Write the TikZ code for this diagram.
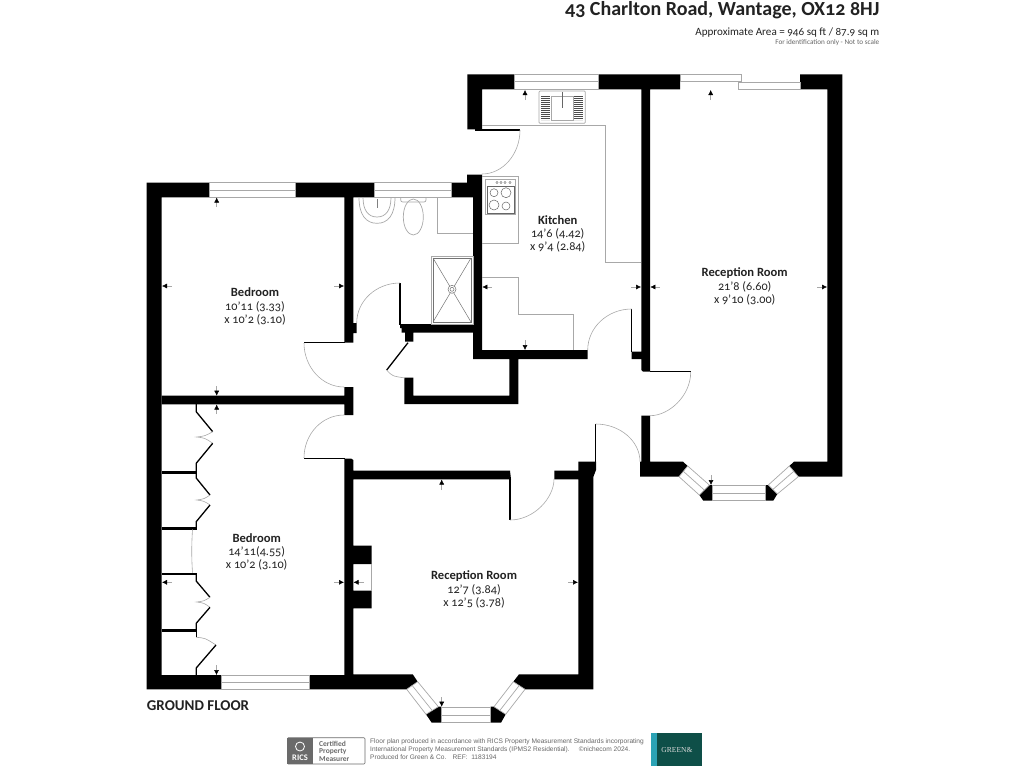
\documentclass[tikz,border=0pt]{standalone}
\usepackage{fontspec}
\usepackage{xcolor}
\setmainfont[Numbers=OldStyle]{Carlito}
\newfontfamily\finefont{Liberation Sans}
\newfontfamily\logofont{Liberation Serif}
\usetikzlibrary{arrows.meta}
\definecolor{inkgrey}{HTML}{222222}
\definecolor{linegrey}{HTML}{A8A8A8}
\definecolor{badgegrey}{HTML}{6A6A6A}
\definecolor{greensbox}{HTML}{0E4F48}
\definecolor{greensbar}{HTML}{2BA3B5}
\tikzset{
  wall/.style={fill=black},
  leaf/.style={draw=black,line width=1.3pt},
  swing/.style={draw=linegrey,line width=0.6pt},
  fixture/.style={draw=linegrey,line width=0.7pt},
  glass/.style={draw=linegrey,line width=0.7pt,fill=white},
  sizemark/.style={draw=linegrey,line width=0.5pt,-{Latex[black,length=5pt,width=5pt]}},
  roomname/.style={font=\fontsize{12.6}{14}\selectfont\bfseries,text=inkgrey,inner sep=0pt},
  roomsize/.style={font=\fontsize{12.2}{14}\selectfont,text=inkgrey,inner sep=0pt}
}

\begin{document}
\begin{tikzpicture}[x=1pt,y=-1pt]
  \useasboundingbox (0,0) rectangle (1024,768);

  \begin{scope}
    % outer and inner walls
    \fill[wall] (146.7,182.7) -- (209,182.7) -- (209,197.3) -- (161.7,197.3) -- (161.7,675) -- (221.7,675) -- (221.7,689.3) -- (146.7,689.3) -- cycle;
    \fill[wall] (295.3,182.7) -- (374.7,182.7) -- (374.7,197.3) -- (353.3,197.3) -- (353.3,323) -- (356.7,323) -- (356.7,333) -- (353.3,333) -- (353.3,342.7) -- (344.3,342.7) -- (344.3,197.3) -- (295.3,197.3) -- cycle;
    \fill[wall] (451.7,182.7) -- (467,182.7) -- (467,174.5) -- (482,174.5) -- (482,350) -- (587.7,350) -- (587.7,359) -- (518.3,359) -- (518.3,404) -- (404.3,404) -- (404.3,377.7) -- (413.3,377.7) -- (413.3,395.7) -- (509.3,395.7) -- (509.3,359) -- (473,359) -- (473,332.7) -- (413.3,332.7) -- (413.3,341.7) -- (405,341.7) -- (405,332.7) -- (401.7,332.7) -- (401.7,328) -- (400,328) -- (400,324) -- (473,324) -- (473,197.3) -- (451.7,197.3) -- cycle;
    \fill[wall] (161.7,395.7) -- (344.3,395.7) -- (344.3,387) -- (353.3,387) -- (353.3,415) -- (344.3,415) -- (344.3,404.3) -- (161.7,404.3) -- cycle;
    \fill[wall] (344.3,458.5) -- (351,458.5) -- (353.3,460) -- (353.3,470.7) -- (510,470.7) -- (511,479.3) -- (353.3,479.3) -- (353.3,545.7) -- (371.7,545.7) -- (371.7,564) -- (353.3,564) -- (353.3,590.7) -- (371.7,590.7) -- (371.7,608.3) -- (353.3,608.3) -- (353.3,674.3) -- (412.7,674.3) -- (417.7,681.7) -- (406.7,689.3) -- (309,689.3) -- (309,675) -- (344.3,675) -- cycle;
    \fill[wall] (554.3,470.7) -- (578.3,470.7) -- (578.3,461.7) -- (596,461.7) -- (596,470) -- (593.3,477) -- (593.3,689.3) -- (525,689.3) -- (513.3,681.7) -- (519,674.3) -- (578.3,674.3) -- (578.3,479.3) -- (554.3,479.3) -- cycle;
    \fill[wall] (467.3,74.3) -- (514.7,74.3) -- (514.7,89.3) -- (482,89.3) -- (482,129.3) -- (467.3,129.3) -- cycle;
    \fill[wall] (598.7,74.3) -- (680,74.3) -- (680,89.3) -- (650,89.3) -- (650,371.7) -- (643,371.7) -- (641.3,370) -- (641.3,359) -- (631.7,359) -- (631.7,351.7) -- (641.3,351.7) -- (641.3,89.3) -- (598.7,89.3) -- cycle;
    \fill[wall] (641.3,415.7) -- (650,415.7) -- (650,461.7) -- (683,461.7) -- (687.7,466) -- (679,476.7) -- (640,476.7) -- (640,461.7) -- (641.3,461.7) -- cycle;
    \fill[wall] (800,74.3) -- (842.3,74.3) -- (842.3,476.7) -- (798.3,476.7) -- (789.3,466) -- (794,461.7) -- (827.3,461.7) -- (827.3,89.3) -- (800,89.3) -- cycle;
    % bay piers
    \fill[wall] (699.3,495) -- (709.3,485) -- (712.3,485) -- (712.3,500.7) -- (703.3,500.7) -- cycle;
    \fill[wall] (765,485) -- (768.3,485) -- (777.3,494) -- (773.3,500.7) -- (765,500.7) -- cycle;
    \fill[wall] (426,714.3) -- (438.3,706.7) -- (441.3,706.7) -- (441.3,722.7) -- (431.7,722.7) -- cycle;
    \fill[wall] (490.7,706.7) -- (494,706.7) -- (505.7,714.3) -- (501,722.7) -- (490.7,722.7) -- cycle;
    % wardrobe dividers
    \fill[wall] (161.7,470.7) -- (197.3,470.7) -- (197.3,473.5) -- (161.7,473.5) -- cycle;
    \fill[wall] (161.7,527.3) -- (197.3,527.3) -- (197.3,529.5) -- (161.7,529.5) -- cycle;
    \fill[wall] (161.7,572.7) -- (197.3,572.7) -- (197.3,575) -- (161.7,575) -- cycle;
    \fill[wall] (161.7,629.3) -- (197.3,629.3) -- (197.3,632) -- (161.7,632) -- cycle;
  \end{scope}

  \begin{scope}
    % windows
    \draw[glass] (514.7,74.3) rectangle (598.7,89.3);
    \draw[fixture] (514.7,81.7) -- (598.7,81.7);
    \draw[glass] (680,74.3) rectangle (741.7,81.7);
    \draw[glass] (738.7,82.3) rectangle (800,89.3);
    \draw[glass] (209,182.7) rectangle (295.3,197.3);
    \draw[fixture] (209,190) -- (295.3,190);
    \draw[glass] (374.7,182.7) rectangle (451.7,197.3);
    \draw[fixture] (374.7,190) -- (451.7,190);
    \draw[glass] (221.7,675) rectangle (309,689.3);
    \draw[fixture] (221.7,682) -- (309,682);
    \draw[glass] (441.3,707.7) rectangle (490.7,722.7);
    \draw[fixture] (441.3,715) -- (490.7,715);
    \draw[glass] (417.7,681.7) -- (438.3,706.7) -- (426,714.3) -- (406.7,689.3) -- cycle;
    \draw[fixture] (412.2,685.5) -- (432.2,710.5);
    \draw[glass] (513.3,681.7) -- (494,706.7) -- (505.7,714.3) -- (525,689.3) -- cycle;
    \draw[fixture] (519.2,685.5) -- (499.8,710.5);
    \draw[glass] (712.3,485.3) rectangle (765,500.7);
    \draw[fixture] (712.3,493) -- (765,493);
    \draw[glass] (687.7,466) -- (709.3,485) -- (699.3,495) -- (679,476.7) -- cycle;
    \draw[fixture] (683.3,471.3) -- (704.3,490);
    \draw[glass] (789.3,466) -- (768.3,485) -- (777.3,494) -- (798.3,476.7) -- cycle;
    \draw[fixture] (793.8,471.3) -- (772.8,489.5);
  \end{scope}

  \begin{scope}
    % doors
    \draw[leaf] (475,130) -- (520,130);
    \draw[swing] (520,130) .. controls (520,154) and (503,174) .. (482,174);
    \draw[leaf] (631.7,309) -- (631.7,352);
    \draw[swing] (631.7,309) .. controls (607.5,309) and (587.7,327.5) .. (587.7,350);
    \draw[leaf] (400,283) -- (400,325);
    \draw[swing] (400,283) .. controls (376,283) and (356.7,301) .. (356.7,323);
    \draw[leaf] (304,342.7) -- (345,342.7);
    \draw[swing] (304,343) .. controls (304,367) and (322,387) .. (344,387);
    \draw[leaf] (304,458.5) -- (345,458.5);
    \draw[swing] (344,415) .. controls (322,415) and (304,434) .. (304,458);
    \draw[leaf] (510,479) -- (510,520);
    \draw[swing] (510,520) .. controls (534,520) and (554,498) .. (554,479);
    \draw[leaf] (595.7,424) -- (595.7,462);
    \draw[swing] (595.7,424) .. controls (620,424) and (640,441) .. (640,461.7);
    \draw[leaf] (650,371.7) -- (690.7,371.7);
    \draw[swing] (690.7,372) .. controls (690.7,396) and (669,415.7) .. (650,415.7);
    \draw[leaf] (408,342.7) -- (386.7,370);
    \draw[swing] (386.7,370) .. controls (392,376) .. (405,378);
    % wardrobe doors
    \draw[leaf] (196.2,404) -- (196.2,411.7) -- (212.7,431.7);
    \draw[swing] (212.7,431.7) .. controls (205,436) .. (196.7,437) .. controls (205,438) .. (212.7,443.3);
    \draw[leaf] (212.7,443.3) -- (196.2,463.3) -- (196.2,471);
    \draw[leaf] (196.2,473) -- (196.2,478) -- (210,495);
    \draw[swing] (210,495) .. controls (204,499) .. (196.7,500) .. controls (204,501) .. (210,505);
    \draw[leaf] (210,505) -- (196.2,521.7) -- (196.2,528);
    \draw[leaf] (196.2,575) -- (196.2,581) -- (210,597.3);
    \draw[swing] (210,597.3) .. controls (204,601) .. (196.7,602) .. controls (204,603) .. (210,607.3);
    \draw[leaf] (210,607.3) -- (196.2,623.3) -- (196.2,630);
    \draw[leaf] (196.2,632) -- (196.2,637.3);
    \draw[swing] (196.2,637.3) .. controls (205,638) .. (216,645);
    \draw[leaf] (216,645) -- (196.2,668) -- (196.2,675);
    \draw[swing] (192.5,529.5) .. controls (191.5,545) and (191.5,558) .. (192.5,572.7);
  \end{scope}

  \begin{scope}
    % kitchen fittings
    \draw[fixture] (482,125) -- (605.3,125) -- (605.3,262.3) -- (641.3,262.3);
    \draw[fixture] (482,243.3) -- (518.3,243.3) -- (518.3,176.7) -- (482,176.7);
    \draw[fixture] (482,277.3) -- (518.3,277.3) -- (518.3,314.3) -- (573.3,314.3) -- (573.3,350);
    \draw[fixture,fill=white,rounded corners=1pt] (539,91) rectangle (585.3,123.3);
    \draw[fixture] (551,96) rectangle (573,120);
    \draw[black!70,line width=9pt,dash pattern=on 0.8pt off 1.2pt] (545.5,96) -- (545.5,120);
    \draw[black!70,line width=9pt,dash pattern=on 0.8pt off 1.2pt] (578.5,96) -- (578.5,120);
    \draw[black!60,line width=0.8pt] (562,92) -- (562,108);
    \draw[fixture] (485.7,179.3) rectangle (515.7,214.3);
    \draw[black!60,line width=0.5pt] (487,186.7) rectangle (514.5,213.5);
    \draw[black!60,line width=0.5pt] (494,192.7) circle (4);
    \draw[black!60,line width=0.5pt] (506,192.7) circle (5);
    \draw[black!60,line width=0.5pt] (494,205) circle (5);
    \draw[black!60,line width=0.5pt] (506,206) circle (4);
    \draw[black!60,line width=0.4pt] (497,182.5) circle (1.2);
    \draw[black!60,line width=0.4pt] (501,182.5) circle (1.2);
    \draw[black!60,line width=0.4pt] (505,182.5) circle (1.2);
    \draw[black!60,line width=0.4pt] (510,182.5) circle (1.2);
    % bathroom fittings
    \draw[fixture] (359,197.3) .. controls (359,215) and (366,223.3) .. (377,223.3) .. controls (388,223.3) and (395,215) .. (395,197.3);
    \draw[fixture] (363,197.3) .. controls (363,210) and (368,217) .. (377,217) .. controls (386,217) and (391,210) .. (391,197.3);
    \draw[black!50,line width=0.5pt] (377,199) -- (377,208);
    \draw[fixture,rounded corners=2pt] (400.7,197.3) -- (400.7,202) -- (426,202) -- (426,197.3);
    \draw[fixture] (413.3,217) ellipse (10 and 18);
    \draw[fixture] (437.7,197.3) -- (437.7,233.3) -- (473,233.3);
    \draw[fixture] (431,256) rectangle (473,324);
    \draw[black!55,line width=0.5pt] (433,258) rectangle (471,322);
    \draw[black!55,line width=0.5pt] (433,258) -- (471,322);
    \draw[black!55,line width=0.5pt] (471,258) -- (433,322);
    \draw[black!55,line width=0.5pt,fill=white] (452,289.3) circle (4);
    \draw[black!55,line width=0.5pt] (452,289.3) circle (2);
    % fireplace
    \draw[fixture] (371.7,564) -- (371.7,590.7);
  \end{scope}

  \begin{scope}
    % size marks
    \draw[sizemark] (525,100) -- (525,90);
    \draw[sizemark] (710.7,100) -- (710.7,90);
    \draw[sizemark] (492,287) -- (482.3,287);
    \draw[sizemark] (631,287) -- (641,287);
    \draw[sizemark] (660,287) -- (650.3,287);
    \draw[sizemark] (817,287) -- (827,287);
    \draw[sizemark] (525,340) -- (525,350);
    \draw[sizemark] (216.7,207) -- (216.7,197.5);
    \draw[sizemark] (172,286) -- (162,286);
    \draw[sizemark] (334,286) -- (344,286);
    \draw[sizemark] (216.7,386) -- (216.7,395.7);
    \draw[sizemark] (216.7,414) -- (216.7,404.5);
    \draw[sizemark] (172,582.3) -- (162,582.3);
    \draw[sizemark] (334,582.3) -- (344,582.3);
    \draw[sizemark] (216.5,665) -- (216.5,675);
    \draw[sizemark] (441.7,490) -- (441.7,479.5);
    \draw[sizemark] (364,582.3) -- (353.5,582.3);
    \draw[sizemark] (568,582.3) -- (578,582.3);
    \draw[sizemark] (441.7,697) -- (441.7,706.7);
    \draw[sizemark] (711,475) -- (711,485);
  \end{scope}

  \begin{scope}
    % room labels
    \node[roomname] (kitchen) at (557.7,220) {Kitchen};
    \node[roomsize] (kitchenA) at (557.7,234) {14'6 (4.42)};
    \node[roomsize] (kitchenB) at (557.7,247) {x 9'4 (2.84)};
    \node[roomname] (lounge) at (744.7,273) {Reception Room};
    \node[roomsize] (loungeA) at (744.7,286.5) {21'8 (6.60)};
    \node[roomsize] (loungeB) at (744.7,300) {x 9'10 (3.00)};
    \node[roomname] (bedone) at (255,292) {Bedroom};
    \node[roomsize] (bedoneA) at (255,306.5) {10'11 (3.33)};
    \node[roomsize] (bedoneB) at (255,319.5) {x 10'2 (3.10)};
    \node[roomname] (bedtwo) at (256.7,538) {Bedroom};
    \node[roomsize] (bedtwoA) at (256.7,552) {14'11(4.55)};
    \node[roomsize] (bedtwoB) at (256.7,565) {x 10'2 (3.10)};
    \node[roomname] (dining) at (474,576.5) {Reception Room};
    \node[roomsize] (diningA) at (474,590) {12'7 (3.84)};
    \node[roomsize] (diningB) at (474,603) {x 12'5 (3.78)};
    \node[font=\fontsize{15}{17}\selectfont\bfseries,text=inkgrey,inner sep=0pt,anchor=west] (floorname) at (146.7,706) {GROUND FLOOR};
    % heading
    \node[font=\fontsize{20}{23}\selectfont\bfseries,text=inkgrey,inner sep=0pt,anchor=east] (address) at (879.5,10) {43 Charlton Road, Wantage, OX12 8HJ};
    \node[font=\fontsize{11.1}{13}\selectfont,text=inkgrey,inner sep=0pt,anchor=east] (area) at (879.5,33) {Approximate Area = 946 sq ft / 87.9 sq m};
    \node[font=\fontsize{7.2}{8}\selectfont,text=black!60,inner sep=0pt,anchor=east] (scale) at (879.5,42.5) {For identification only - Not to scale};
  \end{scope}

  \begin{scope}
    % footer
    \draw[draw=badgegrey,line width=0.6pt,rounded corners=1pt] (287.3,737.7) rectangle (365,764);
    \fill[badgegrey] (287.3,737.7) rectangle (312.7,764);
    \draw[white,line width=0.8pt] (300,746.5) circle (4.5);
    \node[font=\fontsize{8.5}{9}\selectfont\bfseries,text=white,inner sep=0pt] (rics) at (300,757.5) {RICS};
    \node[font=\fontsize{7.5}{7.4}\selectfont\bfseries,text=badgegrey,inner sep=0pt,align=left,anchor=west] (certified) at (319,751) {Certified\\Property\\Measurer};
    \node[font=\finefont\fontsize{6.6}{7.8}\selectfont,text=black!60,inner sep=0pt,align=left,anchor=west] (legal) at (370,749.3) {Floor plan produced in accordance with RICS Property Measurement Standards incorporating\\International Property Measurement Standards (IPMS2 Residential). \quad ©nichecom 2024.\\Produced for Green \& Co. \ \ REF: \ 1183194};
    \fill[greensbox] (651,733.3) rectangle (702.3,765.7);
    \fill[greensbar] (651,733.3) rectangle (656.7,765.7);
    \node[font=\logofont\fontsize{7.6}{9}\selectfont,text=white!85!black,inner sep=0pt] (greens) at (677,749.5) {GREEN\&};
  \end{scope}
\end{tikzpicture}
\end{document}
